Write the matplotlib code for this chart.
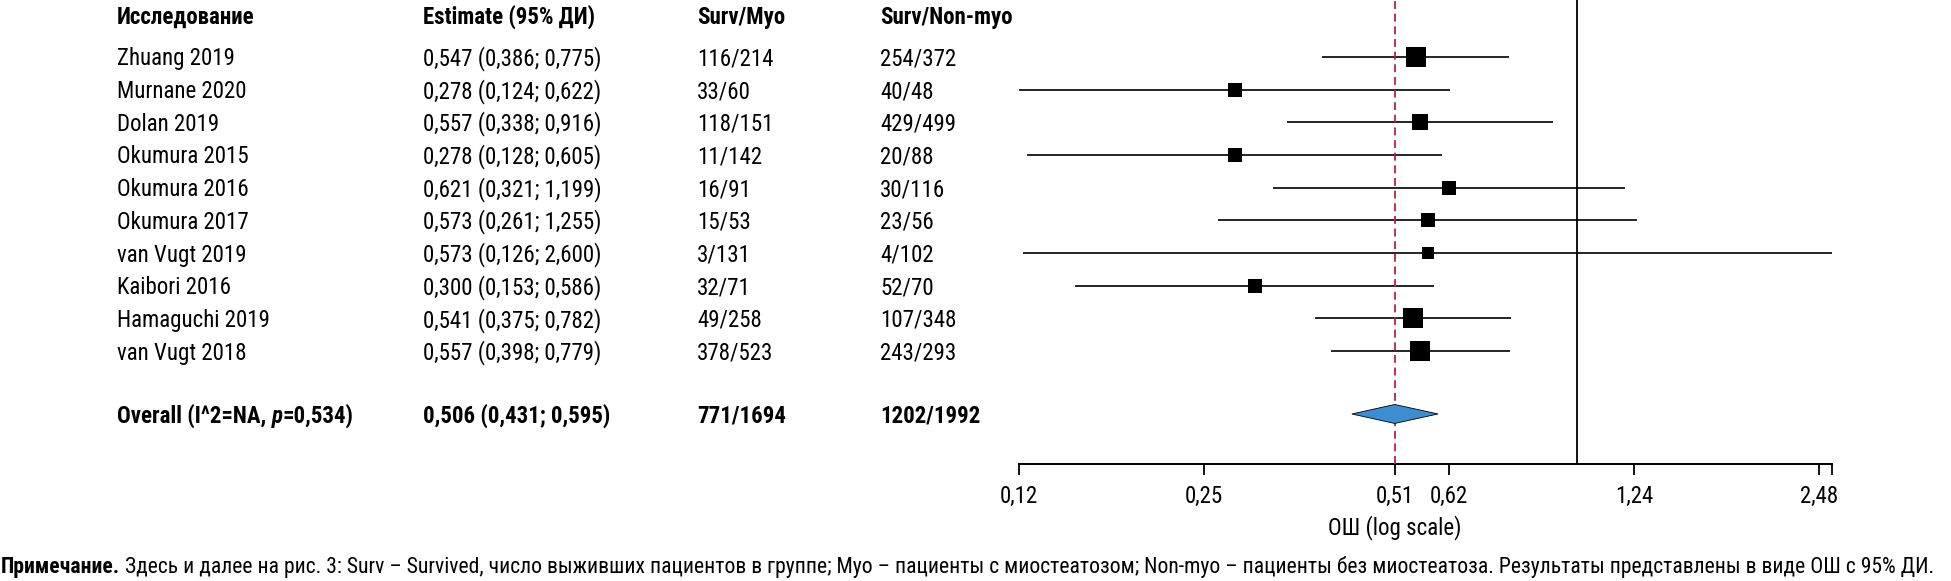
import matplotlib
matplotlib.use('Agg')
from matplotlib import pyplot as plt
from matplotlib import transforms
from matplotlib.text import Annotation
import numpy as np

# Data
studies = ['Zhuang 2019', 'Murnane 2020', 'Dolan 2019', 'Okumura 2015', 'Okumura 2016',
           'Okumura 2017', 'van Vugt 2019', 'Kaibori 2016', 'Hamaguchi 2019', 'van Vugt 2018']
est = [0.547, 0.278, 0.557, 0.278, 0.621, 0.573, 0.573, 0.300, 0.541, 0.557]
lo = [0.386, 0.124, 0.338, 0.128, 0.321, 0.261, 0.126, 0.153, 0.375, 0.398]
hi = [0.775, 0.622, 0.916, 0.605, 1.199, 1.255, 2.600, 0.586, 0.782, 0.779]
surv_myo = ['116/214', '33/60', '118/151', '11/142', '16/91', '15/53', '3/131', '32/71', '49/258', '378/523']
surv_non = ['254/372', '40/48', '429/499', '20/88', '30/116', '23/56', '4/102', '52/70', '107/348', '243/293']

overall_est, overall_lo, overall_hi = 0.506, 0.431, 0.595
overall_myo = '771/1694'
overall_non = '1202/1992'
overall_p = '0,534'

headers = ['Исследование', 'Estimate (95% ДИ)', 'Surv/Myo', 'Surv/Non-myo']
tick_vals = [0.124, 0.248, 0.506, 0.62, 1.24, 2.48, 2.6]
tick_labels = ['0,12', '0,25', '0,51', '0,62', '1,24', '2,48', '']

note_bold = 'Примечание.'
note_text = (' Здесь и далее на рис. 3: Surv – Survived, число выживших пациентов в группе; '
             'Myo – пациенты с миостеатозом; Non-myo – пациенты без миостеатоза. '
             'Результаты представлены в виде ОШ с 95% ДИ.')

plt.rcParams['font.family'] = ['Roboto Condensed', 'Roboto', 'DejaVu Sans']
FS = 16.5
NOTE_FS = 15.6

W, H = 1951, 581
fig = plt.figure(figsize=(W / 100, H / 100), dpi=100)

# forest panel: pixel box x 1019..1832, y 0..464
ax = fig.add_axes([1019 / W, 1 - 464 / H, (1832 - 1019) / W, 464 / H])
ax.set_xscale('log')
ax.set_xlim(lo[1], hi[6])
ax.set_ylim(12.45, -1.74)


def fmt(v):
    return f'{v:.3f}'.replace('.', ',')


# box size grows with precision of the estimate
se = (np.log(hi) - np.log(lo)) / (2 * 1.96)
side_px = 9 + 1.95 / se

ax.axvline(1, color='black', lw=1.3, zorder=1)
ax.axvline(overall_est, color='#b8233f', lw=1.3, dashes=(4.4, 2.6), zorder=3)

for i in range(len(studies)):
    ax.plot([lo[i], hi[i]], [i, i], color='black', lw=1.2, solid_capstyle='butt', zorder=2)
    ax.plot(est[i], i, marker='s', ms=side_px[i] * 0.72, color='black', mew=0, zorder=4)

orow = 10.92
dh = 0.29
ax.fill([overall_lo, overall_est, overall_hi, overall_est], [orow, orow - dh, orow, orow + dh],
        fc='#3b8ed0', ec='black', lw=0.6, zorder=4)

for s in ['top', 'left', 'right']:
    ax.spines[s].set_visible(False)
ax.spines['bottom'].set_linewidth(1.4)
ax.set_yticks([])
ax.xaxis.set_minor_locator(matplotlib.ticker.NullLocator())
ax.set_xticks(tick_vals)
ax.set_xticklabels(tick_labels)
ax.tick_params(axis='x', length=8, width=1.3, pad=7, labelsize=FS)
ax.set_xlabel('ОШ (log scale)', fontsize=FS, va='baseline')
ax.xaxis.set_label_coords((1395 - 1019) / (1832 - 1019), -70 / 464)

# text table
blend = transforms.blended_transform_factory(fig.transFigure, ax.transData)
tr = transforms.offset_copy(blend, fig=fig, x=0, y=-8.5, units='dots')
cols = [117, 423, 697, 880]

for x, h in zip(cols, headers):
    ax.text(x / W, -1.28, h, transform=tr, fontsize=FS, fontweight='bold', va='baseline', clip_on=False)

for i in range(len(studies)):
    row = [studies[i], f'{fmt(est[i])} ({fmt(lo[i])}; {fmt(hi[i])})', surv_myo[i], surv_non[i]]
    for x, s in zip(cols, row):
        ax.text(x / W, i, s, transform=tr, fontsize=FS, va='baseline', clip_on=False)

t1 = ax.text(cols[0] / W, orow, 'Overall (I^2=NA, ', transform=tr, fontsize=FS,
             fontweight='bold', va='baseline', clip_on=False)
t2 = ax.annotate('p', xy=(1, 0), xycoords=t1, fontsize=FS, fontweight='bold',
                 fontstyle='italic', va='bottom')
ax.annotate(f'={overall_p})', xy=(1, 0), xycoords=t2, fontsize=FS, fontweight='bold', va='bottom')
orow_txt = [f'{fmt(overall_est)} ({fmt(overall_lo)}; {fmt(overall_hi)})', overall_myo, overall_non]
for x, s in zip(cols[1:], orow_txt):
    ax.text(x / W, orow, s, transform=tr, fontsize=FS, fontweight='bold', va='baseline', clip_on=False)

# note under the chart
n1 = fig.text(1 / W, 1 - 573.5 / H, note_bold, fontsize=NOTE_FS, fontweight='bold', va='baseline')
fig.add_artist(Annotation(note_text, xy=(1, 0), xycoords=n1, fontsize=NOTE_FS, va='bottom'))

fig.savefig('out.png', dpi=100)
